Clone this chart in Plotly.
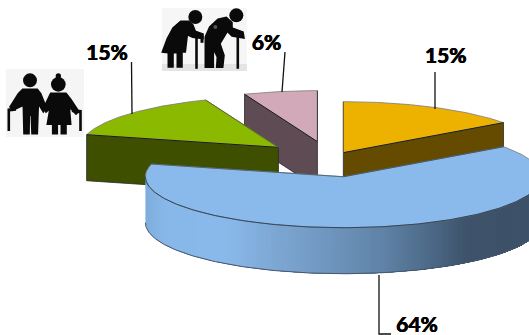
import numpy as np
import plotly.graph_objects as go

# Age-group shares, clockwise from twelve o'clock
slice_names = ["yellow", "blue", "green", "pink"]
shares = [15, 64, 15, 6]
share_labels = ["15%", "64%", "15%", "6%"]
explode = [0.144, 0.35, 0.35, 0.35]

top_colors = ["#EDB200", "#8ABAEC", "#8BB900", "#D2A9B8"]
side_colors = ["#654B00", "#3E5268", "#3E4F00", "#5E4B53"]

# Tilted-disc geometry in canvas pixels
W, H = 529, 335
CX, CY = 330.4, 159.2
RX, RY = 198.0, 51.0
DEPTH = 46.0
START = 90.0

fig = go.Figure()


def hexrgb(c):
    return np.array([int(c[i:i + 2], 16) for i in (1, 3, 5)], float)


def poly(x, y, fill, line=None, width=0.0):
    fig.add_trace(go.Scatter(
        x=list(x) + [x[0]], y=list(y) + [y[0]], mode="lines", fill="toself",
        fillcolor=fill, line=dict(color=line or fill, width=width),
        hoverinfo="skip", showlegend=False))


def edge(x, y, color, width=1.0):
    fig.add_trace(go.Scatter(x=x, y=y, mode="lines", line=dict(color=color, width=width),
                             hoverinfo="skip", showlegend=False))


# Angular spans and exploded apex of every slice
spans, apexes = [], []
angle = START
for share, exp in zip(shares, explode):
    sweep = share / sum(shares) * 360.0
    t0, t1 = angle, angle - sweep
    mid = np.radians((t0 + t1) / 2)
    spans.append((t0, t1))
    apexes.append((CX + exp * RX * np.cos(mid), CY - exp * RY * np.sin(mid)))
    angle = t1


def rim(i):
    t0, t1 = spans[i]
    t = np.radians(np.linspace(t0, t1, 140))
    ax, ay = apexes[i]
    return ax + RX * np.cos(t), ay - RY * np.sin(t)


def top_face(i):
    ax, ay = apexes[i]
    x, y = rim(i)
    poly([ax, *x], [ay, *y], top_colors[i], "#7A7A7A", 0.8)


def cut_face(i, end):
    # Flat radial wall, from the apex out to the rim at one end of the slice
    ax, ay = apexes[i]
    x, y = rim(i)
    px, py = (x[0], y[0]) if end == 0 else (x[-1], y[-1])
    poly([ax, px, px, ax], [ay, py, py + DEPTH, ay + DEPTH], side_colors[i], "#2A2A2A", 0.8)


def cut_edge(i, end, color="#1A1A1A"):
    ax, ay = apexes[i]
    x, y = rim(i)
    px, py = (x[0], y[0]) if end == 0 else (x[-1], y[-1])
    edge([ax, px], [ay, py], color, 1.0)


# Back to front: pink, green, yellow, then the large blue slice
cut_face(3, 0)
top_face(3)
cut_edge(3, 0)
cut_edge(3, 1, "#3A3A3A")

cut_face(2, 0)
top_face(2)
cut_edge(2, 0)
cut_edge(2, 1, "#5A6A20")

cut_face(0, 1)
top_face(0)
cut_edge(0, 1)
cut_edge(0, 0, "#6A5A20")

# Blue outer wall: each band runs to the right end and is overpainted by the next one
wall_stops = [(145, "#7FAEDD"), (165, "#88B8E9"), (225, "#8ABAEC"), (270, "#7FA9D6"),
              (330, "#6F96BE"), (385, "#5F82A6"), (430, "#4D6A88"), (465, "#3F546C"),
              (529, "#3D5168"), (545, "#3D5168")]
stop_x = [s[0] for s in wall_stops]
stop_rgb = np.array([hexrgb(s[1]) for s in wall_stops])
bx, by = apexes[1]
band_edges = np.arange(bx - RX, W, 3.0)
for x_left in band_edges:
    a0 = -np.degrees(np.arccos(np.clip((x_left - bx) / RX, -1, 1)))
    t = np.radians(np.linspace(a0, 0, 60))
    sx = bx + RX * np.cos(t)
    sy = by - RY * np.sin(t)
    rgb = [np.interp(x_left + 1.5, stop_x, stop_rgb[:, k]) for k in range(3)]
    col = "rgb(%d,%d,%d)" % tuple(rgb)
    poly([*sx, *sx[::-1]], [*sy, *(sy[::-1] + DEPTH)], col, col, 0.0)
wall_t = np.radians(np.linspace(-180, 0, 200))
wall_x = bx + RX * np.cos(wall_t)
wall_y = by - RY * np.sin(wall_t)
edge(wall_x, wall_y + DEPTH, "#46566A", 1.0)

top_face(1)
edge(wall_x, wall_y, "#33475C", 1.0)
edge([rim(1)[0][0], bx], [rim(1)[1][0], by], "#39506A", 0.8)
edge([bx, rim(1)[0][-1]], [by, rim(1)[1][-1]], "#4A5E74", 0.8)

# Leader lines from each slice to its label
leaders = [([435, 435], [72, 109]),
           ([379, 379, 391], [275, 334, 334]),
           ([131.5, 132], [62, 114]),
           ([285, 282], [52, 92])]
for lx, ly in leaders:
    edge(lx, ly, "#111111", 1.3)

label_x = [445.7, 417, 107, 266.5]
label_y = [58, 327, 55, 45]
fig.add_trace(go.Scatter(x=label_x, y=label_y, text=["<b>%s</b>" % s for s in share_labels],
                         mode="text", textposition="middle center",
                         textfont=dict(family="Lato", size=21, color="#000000",
                                       shadow="0.4px 0 0 #000, -0.4px 0 0 #000"),
                         hoverinfo="skip", showlegend=False))


# Pictograms of elderly couples, built as layout shapes
shapes = []


def rect(x0, y0, x1, y1, color):
    shapes.append(dict(type="rect", x0=x0, y0=y0, x1=x1, y1=y1, fillcolor=color,
                       line=dict(width=0), layer="below"))


def blob(points, ox, oy, color="#0A0A0A"):
    path = "M" + " L".join(f"{ox + px / 3:.1f},{oy + py / 3:.1f}" for px, py in points) + " Z"
    shapes.append(dict(type="path", path=path, fillcolor=color, line=dict(color=color, width=1.6)))


def disc(px, py, r, ox, oy, color="#0A0A0A"):
    shapes.append(dict(type="circle", x0=ox + (px - r) / 3, x1=ox + (px + r) / 3,
                       y0=oy + (py - r) / 3, y1=oy + (py + r) / 3,
                       fillcolor=color, line=dict(width=0)))


# Couple holding hands
ox, oy = 0, 62
rect(6, 69, 84, 137, "#F5F5F5")
disc(90, 55, 21, ox, oy)
blob([(68, 82), (112, 82), (122, 95), (138, 135), (130, 150), (115, 125), (112, 215), (96, 215),
      (94, 160), (88, 160), (87, 215), (72, 215), (70, 130), (38, 145), (30, 135), (55, 95)], ox, oy)
blob([(25, 205), (25, 142), (46, 140), (46, 144), (28, 146), (28, 205)], ox, oy)
disc(175, 67, 22, ox, oy)
disc(175, 42, 8, ox, oy)
blob([(152, 94), (198, 94), (212, 112), (236, 148), (228, 156), (208, 135), (212, 187), (198, 187),
      (198, 215), (184, 215), (184, 187), (172, 187), (172, 215), (158, 215), (158, 187), (142, 187),
      (150, 140), (138, 150), (130, 140)], ox, oy)
blob([(240, 205), (240, 152), (218, 148), (220, 144), (243, 146), (243, 205)], ox, oy)

# Couple walking with canes
ox, oy = 158, 2
rect(162, 8, 247, 71, "#F6F6F6")
rect(162, 64, 247, 71, "#E4E4E4")
disc(112, 45, 21, ox, oy)
blob([(92, 58), (104, 68), (112, 88), (135, 96), (135, 110), (104, 106), (88, 98), (82, 150), (72, 150),
      (72, 195), (58, 195), (58, 152), (45, 152), (45, 195), (31, 195), (31, 152), (13, 150), (28, 110),
      (45, 78), (68, 58)], ox, oy)
blob([(114, 108), (117, 108), (117, 198), (114, 198)], ox, oy)
blob([(130, 105), (134, 105), (134, 120), (130, 120)], ox, oy)
disc(235, 40, 21, ox, oy)
blob([(205, 46), (222, 62), (222, 78), (255, 90), (258, 108), (222, 102), (208, 88), (186, 125),
      (198, 160), (194, 196), (176, 196), (178, 165), (166, 140), (166, 196), (142, 196), (142, 105),
      (155, 75), (180, 52)], ox, oy)
blob([(238, 102), (241, 102), (241, 198), (238, 198)], ox, oy)
disc(172, 75, 6, ox, oy, "#555555")

fig.update_layout(
    width=W, height=H, margin=dict(l=0, r=0, t=0, b=0, pad=0),
    paper_bgcolor="white", plot_bgcolor="white", showlegend=False,
    xaxis=dict(range=[0, W], visible=False, fixedrange=True),
    yaxis=dict(range=[H, 0], visible=False, fixedrange=True),
    shapes=shapes,
)

fig.write_html("out.html", config={"displayModeBar": False})
